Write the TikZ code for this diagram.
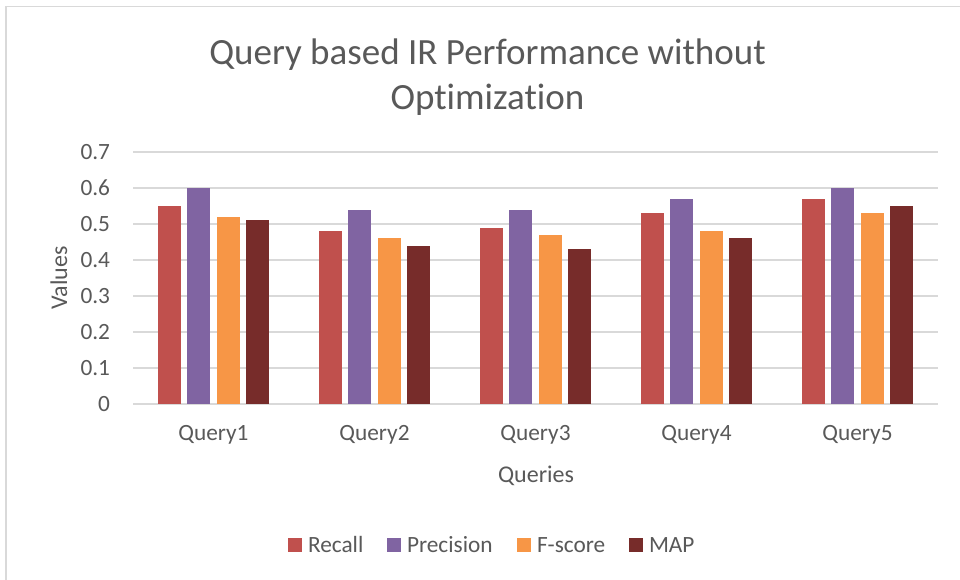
\documentclass[tikz,border=0pt]{standalone}
\usepackage{fontspec}
\setmainfont{Carlito}[Ligatures={NoCommon}]
\definecolor{recallc}{HTML}{C0504D}
\definecolor{precc}{HTML}{8064A2}
\definecolor{fscorec}{HTML}{F79646}
\definecolor{mapc}{HTML}{772C2A}
\definecolor{txtgray}{HTML}{595959}
\definecolor{gridgray}{HTML}{D9D9D9}
\definecolor{bordergray}{HTML}{D9D9D9}
\begin{document}
\begin{tikzpicture}[x=1pt,y=-1pt,
  txt/.style={text=txtgray, inner sep=0pt, outer sep=0pt},
  ticklab/.style={txt, font=\fontsize{23.3}{28}\selectfont, anchor=base east},
  catlab/.style={txt, font=\fontsize{23.3}{28}\selectfont, anchor=base},
  axtitle/.style={txt, font=\fontsize{24}{29}\selectfont},
  leglab/.style={txt, font=\fontsize{23.3}{28}\selectfont, anchor=base west},
  gridline/.style={draw=gridgray, line width=1.6pt},
  legbox/.style={minimum size=14pt, inner sep=0pt, outer sep=0pt}]
\useasboundingbox (0,0) rectangle (960,580);
\fill[white] (0,0) rectangle (960,580);
\draw[bordergray, line width=1.5pt] (6,580) -- (6,6.5) -- (960,6.5);

% title
\node[txt, font=\fontsize{37}{45}\selectfont, anchor=base] (title1) at (487.5,65) {Query based IR Performance without};
\node[txt, font=\fontsize{37}{45}\selectfont, anchor=base] (title2) at (487.5,110) {Optimization};

% gridlines and tick labels
\foreach \k/\lab in {0/0,1/0.1,2/0.2,3/0.3,4/0.4,5/0.5,6/0.6,7/0.7}{
  \draw[gridline] (133,{404-36*\k}) -- (938,{404-36*\k});
  \node[ticklab] (tick\k) at (110,{404-36*\k+7.4}) {\lab};
}

% bars
\foreach \a/\b/\c/\d [count=\i] in {0.55/0.60/0.52/0.51, 0.48/0.54/0.46/0.44, 0.49/0.54/0.47/0.43, 0.53/0.57/0.48/0.46, 0.57/0.60/0.53/0.55}{
  \pgfmathsetmacro{\cx}{133+161*(\i-0.5)}
  \fill[recallc] ({\cx-43.9-11.5},404) rectangle ({\cx-43.9+11.5},{404-360*\a});
  \fill[precc] ({\cx-14.6-11.5},404) rectangle ({\cx-14.6+11.5},{404-360*\b});
  \fill[fscorec] ({\cx+14.6-11.5},404) rectangle ({\cx+14.6+11.5},{404-360*\c});
  \fill[mapc] ({\cx+43.9-11.5},404) rectangle ({\cx+43.9+11.5},{404-360*\d});
  \node[catlab] (cat\i) at (\cx,440) {Query\i};
}

% axis titles
\node[axtitle, anchor=base] (xtitle) at (536,482) {Queries};
\node[axtitle, anchor=base, rotate=90] (ytitle) at (67,278) {Values};

% legend
\node[legbox, fill=recallc] (lg1) at (295,545) {};
\node[leglab] (lt1) at (308,552) {Recall};
\node[legbox, fill=precc] (lg2) at (394,545) {};
\node[leglab] (lt2) at (407,552) {Precision};
\node[legbox, fill=fscorec] (lg3) at (524,545) {};
\node[leglab] (lt3) at (537,552) {F-score};
\node[legbox, fill=mapc] (lg4) at (636,545) {};
\node[leglab] (lt4) at (649,552) {MAP};
\end{tikzpicture}
\end{document}
